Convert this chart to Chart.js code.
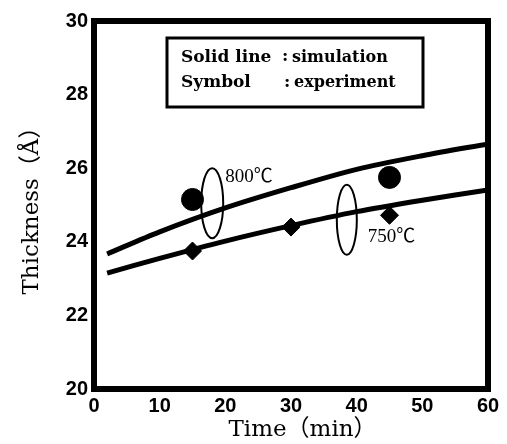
<!DOCTYPE html>
<html>
<head>
<meta charset="utf-8">
<script src="https://cdn.jsdelivr.net/npm/chart.js@4"></script>
<style>
  html, body { margin: 0; padding: 0; background: #fff; }
</style>
</head>
<body>
<canvas id="chart__thickness" width="507" height="444"></canvas>
<script>
// simulation curves (solid lines)
const simTime = [2, 10, 20, 30, 40, 50, 60];
const sim800 = [23.67, 24.27, 24.92, 25.47, 25.97, 26.34, 26.66];
const sim750 = [23.15, 23.55, 24.02, 24.44, 24.82, 25.13, 25.41];
// experiment (symbols)
const expTime800 = [15, 45];
const exp800 = [25.15, 25.75];
const expTime750 = [15, 30, 45];
const exp750 = [23.75, 24.4, 24.72];
const xTicks = [0, 10, 20, 30, 40, 50, 60];
const yTicks = [20, 22, 24, 26, 28, 30];

const toXY = (xs, ys) => xs.map((t, i) => ({ x: t, y: ys[i] }));

// ellipses + temperature labels, placed in data units
const rings = [
    { t: 18.0, v: 25.05, rx: 11, ry: 35 },
    { t: 38.5, v: 24.6, rx: 10, ry: 35 }
];
const tempLabels = [
    { t: 20.0, v: 25.76, text: '800℃' },
    { t: 41.7, v: 24.13, text: '750℃' }
];

const notes = {
    id: 'notes',
    afterDraw(chart) {
        const { ctx, chartArea: a, scales: { x, y } } = chart;
        ctx.save();
        ctx.strokeStyle = '#000';
        ctx.fillStyle = '#000';

        ctx.lineWidth = 2;
        rings.forEach(r => {
            ctx.beginPath();
            ctx.ellipse(x.getPixelForValue(r.t), y.getPixelForValue(r.v), r.rx, r.ry, 0, 0, Math.PI * 2);
            ctx.stroke();
        });

        ctx.font = '19px "Liberation Serif", "Noto Sans CJK JP"';
        ctx.textBaseline = 'middle';
        ctx.textAlign = 'left';
        tempLabels.forEach(l => {
            ctx.fillText(l.text, x.getPixelForValue(l.t), y.getPixelForValue(l.v));
        });

        // legend box
        ctx.lineWidth = 3;
        ctx.strokeRect(a.left + 73, a.top + 17, 256, 69);
        ctx.font = 'bold 17px "DejaVu Serif"';
        ctx.fillText('Solid line', a.left + 87, a.top + 37);
        ctx.fillText('Symbol', a.left + 87, a.top + 62);
        ctx.fillText(':', a.left + 188, a.top + 36);
        ctx.fillText(':', a.left + 190, a.top + 62);
        ctx.font = 'bold 16px "DejaVu Serif"';
        ctx.fillText('simulation', a.left + 198, a.top + 37);
        ctx.fillText('experiment', a.left + 200, a.top + 62);

        // frame
        ctx.lineWidth = 6;
        ctx.strokeRect(a.left, a.top, a.right - a.left, a.bottom - a.top);
        ctx.restore();
    }
};

const tickFont = { family: '"Liberation Sans", Arial, sans-serif', size: 20, weight: 'bold' };
const titleFont = { family: '"DejaVu Serif", "Noto Sans CJK JP"', size: 23 };

new Chart(document.getElementById('chart__thickness'), {
    type: 'scatter',
    data: {
        datasets: [
            {
                label: '800 sim',
                data: toXY(simTime, sim800),
                showLine: true,
                borderColor: '#000',
                borderWidth: 5,
                pointRadius: 0,
                tension: 0.3
            },
            {
                label: '750 sim',
                data: toXY(simTime, sim750),
                showLine: true,
                borderColor: '#000',
                borderWidth: 5,
                pointRadius: 0,
                tension: 0.3
            },
            {
                label: '800 exp',
                data: toXY(expTime800, exp800),
                pointStyle: 'circle',
                pointRadius: 11,
                backgroundColor: '#000',
                borderColor: '#000'
            },
            {
                label: '750 exp',
                data: toXY(expTime750, exp750),
                pointStyle: 'rectRot',
                pointRadius: 9,
                backgroundColor: '#000',
                borderColor: '#000'
            }
        ]
    },
    options: {
        responsive: false,
        animation: false,
        devicePixelRatio: 1,
        layout: { padding: { top: 21, right: 19, left: 0, bottom: 0 } },
        plugins: {
            legend: { display: false },
            tooltip: { enabled: false }
        },
        scales: {
            x: {
                type: 'linear',
                min: 0,
                max: 60,
                afterBuildTicks: s => { s.ticks = xTicks.map(v => ({ value: v })); },
                afterFit: s => { s.height = 55; },
                grid: { display: false, drawTicks: false },
                border: { display: false },
                ticks: { color: '#000', font: tickFont, padding: 5, maxRotation: 0 },
                title: { display: true, text: '\u3000Time（min）', color: '#000', font: titleFont, padding: { top: 0, bottom: 0 } }
            },
            y: {
                type: 'linear',
                min: 20,
                max: 30,
                afterBuildTicks: s => { s.ticks = yTicks.map(v => ({ value: v })); },
                afterFit: s => { s.width = 94; },
                grid: { display: false, drawTicks: false },
                border: { display: false },
                ticks: { color: '#000', font: tickFont, padding: 6 },
                title: { display: true, text: 'Thickness（Å）', color: '#000', font: titleFont, padding: { top: 18, bottom: 0 } }
            }
        }
    },
    plugins: [notes]
});
</script>
</body>
</html>
